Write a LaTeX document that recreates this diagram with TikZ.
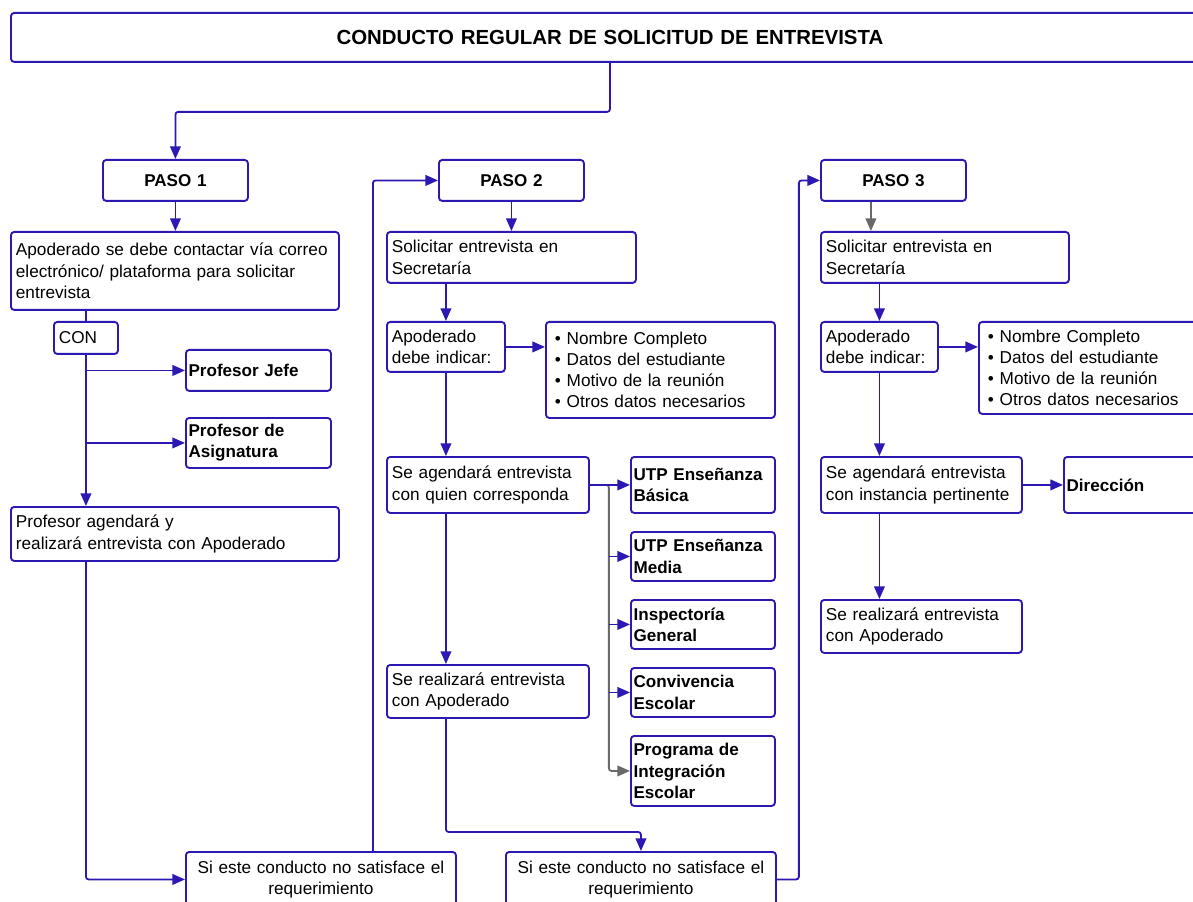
\documentclass[tikz,border=0pt]{standalone}
\usepackage{fontspec}
\setmainfont{Liberation Sans}
\usetikzlibrary{arrows.meta}
\definecolor{lblue}{RGB}{44,24,178}
\definecolor{lgray}{RGB}{105,105,105}
\newcommand\bx[7][]{%
  \pgfmathsetmacro\bxw{(#4-#2)*0.75-7.5}%
  \pgfmathsetmacro\bxh{(#5-#3)*0.75}%
  \node[box,text width=\bxw pt,minimum height=\bxh pt,anchor=north west,#1] (#6) at (#2,#3) {#7};}
\newcommand\bbx[6]{%
  \pgfmathsetmacro\bxw{(#3-#1)*0.75-4}%
  \pgfmathsetmacro\bxh{(#4-#2)*0.75}%
  \node[box,boldbox,inner xsep=2pt,text width=\bxw pt,minimum height=\bxh pt,anchor=north west] (#5) at (#1,#2) {#6};}
\newcommand\bul[1]{\mbox{\hspace*{3pt}\textbullet\ #1}}
\begin{document}
\begin{tikzpicture}[x=0.75pt,y=-0.75pt,
  box/.style={draw=lblue,rounded corners=2.5pt,line width=1.4pt,inner xsep=3.75pt,inner ysep=1pt,
    align=left,font=\fontsize{12.9}{16.2}\selectfont},
  boldbox/.style={font=\bfseries\fontsize{12.8}{15.9}\selectfont},
  pasobox/.style={align=center,font=\bfseries\fontsize{12.8}{15}\selectfont},
  centerbox/.style={align=center},
  listbox/.style={font=\fontsize{12.9}{15.6}\selectfont},
  arr/.style={draw=lblue,line width=1.35pt,rounded corners=2pt,-{Triangle[length=9.5pt,width=8pt]}},
  garr/.style={draw=lgray,line width=1.35pt,rounded corners=2pt,-{Triangle[length=9.5pt,width=8pt]}},
  plainln/.style={draw=lblue,line width=1.35pt,rounded corners=2pt}]
\useasboundingbox (0,0) rectangle (1193,902);
\fill[white] (0,0) rectangle (1193,902);
\clip (0,0) rectangle (1193,902);
% title
\bx[align=center,font=\bfseries\fontsize{15.3}{18}\selectfont]{10}{12}{1208}{61}{title}{CONDUCTO REGULAR DE SOLICITUD DE ENTREVISTA}
% steps
\bx[pasobox]{102}{159}{247}{200}{p1}{PASO 1}
\bx[pasobox]{438}{159}{583}{200}{p2}{PASO 2}
\bx[pasobox]{820}{159}{965}{200}{p3}{PASO 3}
% column 1
\bx{10}{231}{338}{309}{a1}{\mbox{Apoderado se debe contactar vía correo}\\\mbox{electrónico/ plataforma para solicitar}\\entrevista}
\bx{53}{321}{117}{353}{con}{CON}
\bbx{185}{349}{330}{390}{pj}{Profesor Jefe}
\bbx{185}{417}{330}{467}{pd}{Profesor de\\Asignatura}
\bx{10}{506}{338}{560}{pa}{\mbox{Profesor agendará y}\\\mbox{realizará entrevista con Apoderado}}
\bx[centerbox]{185}{851}{455}{906}{si1}{\mbox{Si este conducto no satisface el}\\requerimiento}
% column 2
\bx{386}{231}{635}{282}{b1}{Solicitar entrevista en\\Secretaría}
\bx{386}{321}{504}{371}{b2}{\mbox{Apoderado}\\\mbox{debe indicar:}}
\bx[listbox]{545}{321}{774}{417}{b3}{\bul{Nombre Completo}\\\bul{Datos del estudiante}\\\bul{Motivo de la reunión}\\\bul{Otros datos necesarios}}
\bx{386}{456}{588}{512}{b4}{\mbox{Se agendará entrevista}\\\mbox{con quien corresponda}}
\bx{386}{664}{588}{717}{b5}{\mbox{Se realizará entrevista}\\\mbox{con Apoderado}}
\bbx{630}{456}{774}{512}{ub}{\mbox{UTP Enseñanza}\\Básica}
\bbx{630}{531}{774}{580}{um}{\mbox{UTP Enseñanza}\\Media}
\bbx{630}{599}{774}{648}{ins}{\mbox{Inspectoría}\\General}
\bbx{630}{667}{774}{716}{conv}{\mbox{Convivencia}\\Escolar}
\bbx{630}{735}{774}{805}{pg}{\mbox{Programa de}\\\mbox{Integración}\\Escolar}
\bx[centerbox]{505}{851}{775}{906}{si2}{\mbox{Si este conducto no satisface el}\\requerimiento}
% column 3
\bx{820}{231}{1068}{282}{c1}{Solicitar entrevista en\\Secretaría}
\bx{820}{321}{937}{371}{c2}{\mbox{Apoderado}\\\mbox{debe indicar:}}
\bx[listbox]{978}{321}{1215}{413}{c3}{\bul{Nombre Completo}\\\bul{Datos del estudiante}\\\bul{Motivo de la reunión}\\\bul{Otros datos necesarios}}
\bx{820}{456}{1021}{512}{c4}{\mbox{Se agendará entrevista}\\\mbox{con instancia pertinente}}
\bbx{1063}{456}{1215}{512}{dir}{Dirección}
\bx{820}{599}{1021}{652}{c5}{\mbox{Se realizará entrevista}\\\mbox{con Apoderado}}
% helper coordinates
\coordinate (tk) at ([xshift=14.25pt]b4.east);
\coordinate (s1up) at ([xshift=39pt]si1.north);
\coordinate (p3out) at ([xshift=-16.9pt]p3.south);
% connectors column 1
\draw[arr] (title.south) -- ++(0,-36.75pt) -| (p1.north);
\draw[arr] (p1.south) -- (p1.south |- a1.north);
\draw[plainln] (con.north |- a1.south) -- (con.north);
\draw[arr] (con.south) -- (con.south |- pa.north);
\draw[arr] (con.south |- pj.west) -- (pj.west);
\draw[arr] (con.south |- pd.west) -- (pd.west);
\draw[arr] (con.south |- pa.south) |- (si1.west);
\draw[arr] (s1up) |- (p2.west);
% connectors column 2
\draw[arr] (p2.south) -- (p2.south |- b1.north);
\draw[arr] (b2.north |- b1.south) -- (b2.north);
\draw[arr] (b2.east) -- (b2.east -| b3.west);
\draw[arr] (b2.south) -- (b2.south |- b4.north);
\draw[arr] (b2.south |- b4.south) -- (b2.south |- b5.north);
\draw[arr] (b2.south |- b5.south) |- ([yshift=14.25pt]si2.north) -- (si2.north);
\draw[garr] (b4.east) -- (tk) |- (pg.west);
\draw[arr] (b4.east) -- (b4.east -| ub.west);
\draw[arr] (tk |- um.west) -- (um.west);
\draw[arr] (tk |- ins.west) -- (ins.west);
\draw[arr] (tk |- conv.west) -- (conv.west);
\draw[arr] (si2.east) -- ++(16.5pt,0) |- (p3.west);
% connectors column 3
\draw[garr] (p3out) -- (p3out |- c1.north);
\draw[arr] (c2.north |- c1.south) -- (c2.north);
\draw[arr] (c2.east) -- (c2.east -| c3.west);
\draw[arr] (c2.south) -- (c2.south |- c4.north);
\draw[arr] (c2.south |- c4.south) -- (c2.south |- c5.north);
\draw[arr] (c4.east) -- (c4.east -| dir.west);
\end{tikzpicture}
\end{document}
